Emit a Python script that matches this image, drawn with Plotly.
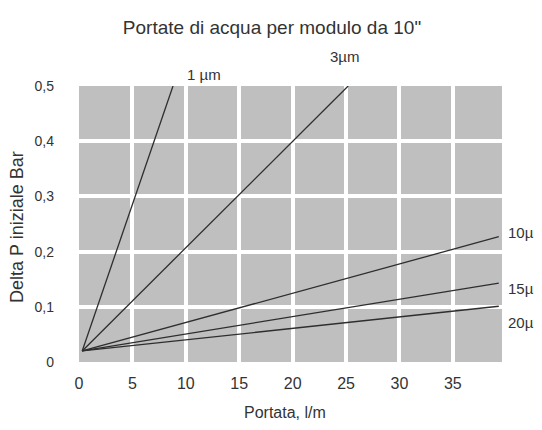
import plotly.graph_objects as go

# --- data ---
title_text = 'Portate di acqua per modulo da 10"'
x_title = "Portata, l/m"
y_title = "Delta P iniziale Bar"

series_names = ["1 µm", "3µm", "10µ", "15µ", "20µ"]
start_flow = 0.3          # l/m where all lines meet
start_dp = 0.02           # bar where all lines meet
end_flow = [8.8, 25.2, 39.3, 39.3, 39.3]
end_dp = [0.5, 0.5, 0.227, 0.143, 0.101]

x_ticks = [0, 5, 10, 15, 20, 25, 30, 35]
y_ticks = [0, 0.1, 0.2, 0.3, 0.4, 0.5]

# page has an 8px body margin, so work in screen pixels and shift
OFF = 8
W, H = 542 - OFF, 430 - OFF
PL, PR, PT, PB = 79, 502, 86, 362   # plot area in screen pixels
ML, MR, MT, MB = PL - OFF, W - (PR - OFF), PT - OFF, H - (PB - OFF)
pw = W - ML - MR
ph = H - MT - MB


def px2paper(sx, sy):
    return (sx - PL) / pw, (PB - sy) / ph


fig = go.Figure()
for name, xe, ye in zip(series_names, end_flow, end_dp):
    fig.add_trace(go.Scatter(
        x=[start_flow, xe], y=[start_dp, ye], mode="lines", name=name,
        line=dict(color="#2e2e2e", width=1.3), showlegend=False,
        hoverinfo="skip", cliponaxis=False))

font_main = "Liberation Sans, Arial, sans-serif"
txt_col = "#333333"

# series labels: (screen x, screen y, anchor)
label_pos = [(204, 74, "center"), (344, 57, "center"),
             (506, 233, "left"), (506, 288, "left"), (506, 322, "left")]
for name, (sx, sy, anc) in zip(series_names, label_pos):
    ax, ay = px2paper(sx, sy)
    fig.add_annotation(
        text=name, xref="paper", yref="paper", x=ax, y=ay,
        xanchor=anc, yanchor="middle", showarrow=False,
        font=dict(family=font_main, size=15, color=txt_col))

# axis titles
ax, ay = px2paper(17, 227)
fig.add_annotation(text=y_title, xref="paper", yref="paper",
                   x=ax, y=ay, textangle=-90,
                   xanchor="center", yanchor="middle", showarrow=False,
                   font=dict(family=font_main, size=18, color=txt_col))
ax, ay = px2paper(285, 412)
fig.add_annotation(text=x_title, xref="paper", yref="paper",
                   x=ax, y=ay, xanchor="center", yanchor="middle",
                   showarrow=False,
                   font=dict(family=font_main, size=16, color=txt_col))

fig.update_layout(
    width=W, height=H,
    margin=dict(l=ML, r=MR, t=MT, b=MB),
    paper_bgcolor="white", plot_bgcolor="#bfbfbf",
    separators=",.",
    title=dict(text=title_text, x=(272 - OFF) / W, xanchor="center",
               y=1 - (27 - OFF) / H, yanchor="middle", yref="container",
               font=dict(family=font_main, size=19, color=txt_col)),
    xaxis=dict(range=[0, 39.6], tickvals=x_ticks, showgrid=True,
               gridcolor="white", gridwidth=4, zeroline=False,
               showline=False, ticks="", ticklabelstandoff=10,
               tickfont=dict(family=font_main, size=16, color=txt_col)),
    yaxis=dict(range=[0, 0.5], tickvals=y_ticks, showgrid=True,
               gridcolor="white", gridwidth=4, zeroline=False,
               showline=False, ticks="", ticklabelstandoff=24,
               tickfont=dict(family=font_main, size=14, color=txt_col)),
)

fig.write_html("out.html")
